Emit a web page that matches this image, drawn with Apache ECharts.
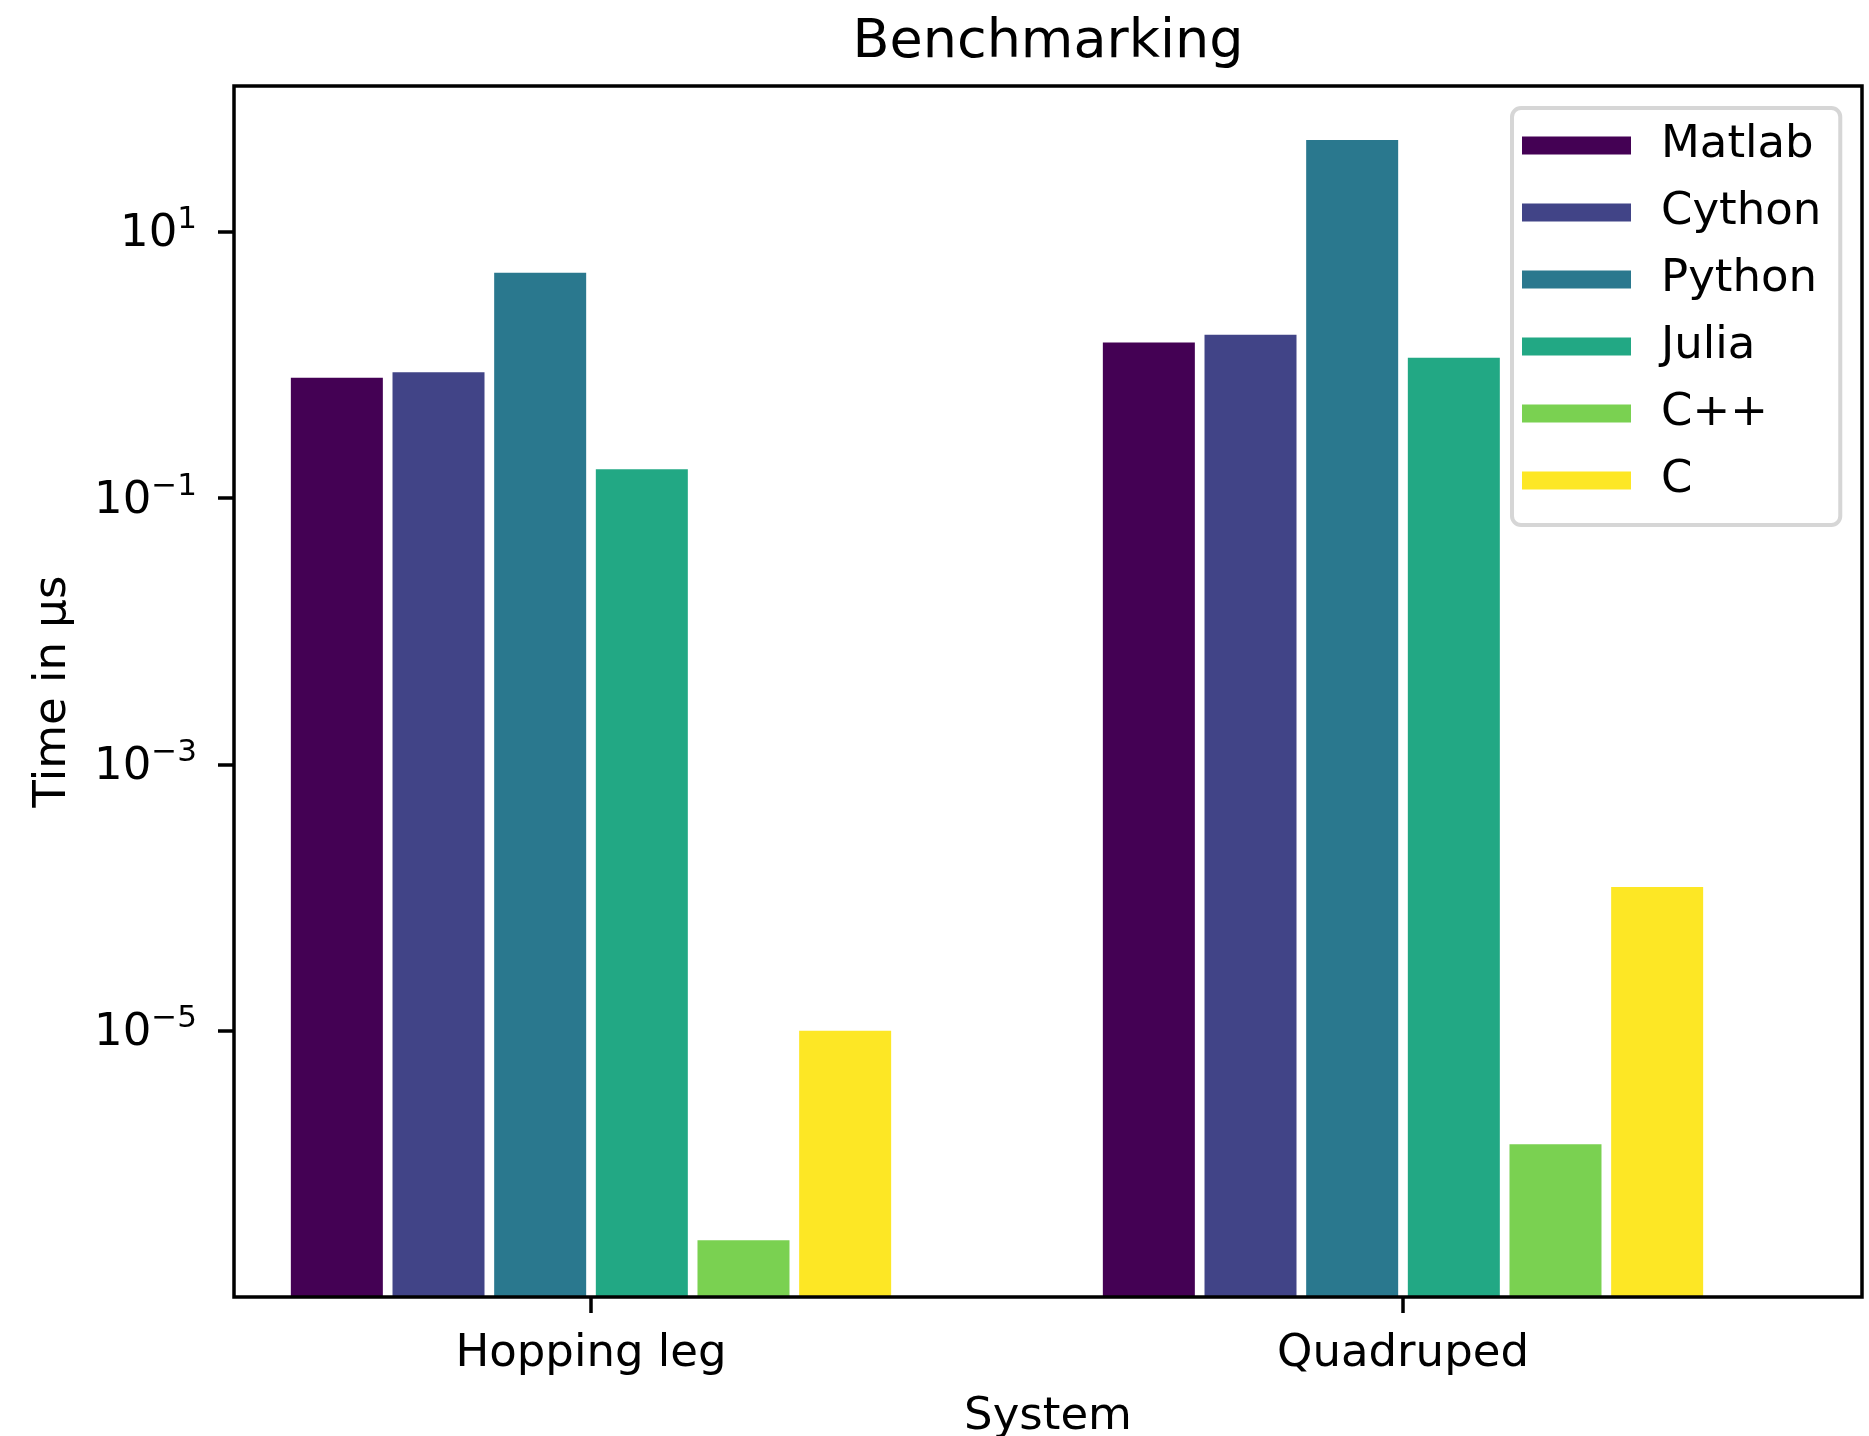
<!DOCTYPE html>
<html>
<head>
<meta charset="utf-8">
<script src="https://cdn.jsdelivr.net/npm/echarts@6/dist/echarts.min.js"></script>
<style>
  html, body { margin: 0; padding: 0; background: #fff; }
  #chart { width: 1869px; height: 1436px; }
</style>
</head>
<body>
<div id="chart"></div>
<script>
const categories = ["Hopping leg", "Quadruped"];
const languages = ["Matlab", "Cython", "Python", "Julia", "C++", "C"];
const matlab = [0.80, 1.47];
const cython = [0.88, 1.68];
const python = [4.9, 48.7];
const julia = [0.164, 1.13];
const cpp = [2.67e-7, 1.4e-6];
const cLang = [1.0e-5, 1.2e-4];
const yTicks = [1e-5, 1e-3, 1e-1, 10];
const colors = ["#440154", "#414487", "#2a788e", "#22a884", "#7ad151", "#fde725"];

const FONT = "DejaVu Sans";
const yMin = 1e-7;
const yMax = 124;

const chart = echarts.init(document.getElementById("chart"));

function powLabel(v) {
  const e = Math.round(Math.log10(v));
  if (e <= -7) return "";
  const exp = e < 0 ? "\u2212" + (-e) : String(e);
  return "{b|10}{s|" + exp + "}";
}

const seriesData = [matlab, cython, python, julia, cpp, cLang];

chart.setOption({
  animation: false,
  textStyle: { fontFamily: FONT },
  title: {
    text: "Benchmarking",
    left: 1048,
    top: 16,
    textAlign: "center",
    padding: 0,
    textStyle: { fontFamily: FONT, fontSize: 54, fontWeight: "normal", color: "#000" }
  },
  legend: {
    orient: "vertical",
    left: 1512,
    top: 108,
    icon: "rect",
    itemWidth: 109,
    itemHeight: 18,
    itemGap: 8,
    padding: [8, 19, 15, 10],
    backgroundColor: "rgba(255,255,255,0.8)",
    borderColor: "#d6d6d6",
    borderWidth: 4,
    borderRadius: 9,
    textStyle: {
      fontFamily: FONT,
      fontSize: 45,
      lineHeight: 45,
      color: "#000",
      padding: [14, 0, 0, 25]
    },
    data: languages
  },
  grid: [
    // bars grid: category centres placed where the reference ticks are
    { left: 185, top: 86, width: 1624, height: 1211, outerBoundsMode: "none", containLabel: false },
    // frame grid: the axes box
    {
      left: 234, top: 86, width: 1628, height: 1211,
      outerBoundsMode: "none", containLabel: false,
      show: true, z: 10,
      backgroundColor: "transparent",
      borderColor: "#000", borderWidth: 3.5
    }
  ],
  xAxis: [
    {
      type: "category",
      gridIndex: 0,
      data: categories,
      axisLine: { show: false },
      axisTick: { show: true, alignWithLabel: true, length: 16, lineStyle: { color: "#000", width: 3.5 } },
      axisLabel: { fontFamily: FONT, fontSize: 45, color: "#000", margin: 35 },
      splitLine: { show: false }
    },
    {
      type: "value",
      gridIndex: 1,
      min: 0,
      max: 1,
      name: "System",
      nameLocation: "middle",
      nameGap: 98,
      nameTextStyle: { fontFamily: FONT, fontSize: 45, color: "#000" },
      axisLine: { show: false },
      axisTick: { show: false },
      axisLabel: { show: false },
      splitLine: { show: false }
    }
  ],
  yAxis: [
    {
      type: "log",
      gridIndex: 0,
      min: yMin,
      max: yMax,
      startValue: yMin,
      show: false,
      splitLine: { show: false }
    },
    {
      type: "log",
      gridIndex: 1,
      min: yMin,
      max: yMax,
      interval: 2,
      name: "Time in μs",
      nameLocation: "middle",
      nameGap: 158,
      nameTextStyle: { fontFamily: FONT, fontSize: 45, color: "#000" },
      axisLine: { show: false },
      axisTick: { show: true, length: 16, lineStyle: { color: "#000", width: 3.5 }, customValues: yTicks },
      axisLabel: {
        customValues: yTicks,
        margin: 37,
        padding: [6, 0, 0, 0],
        color: "#000",
        formatter: powLabel,
        rich: {
          b: { fontFamily: FONT, fontSize: 45, lineHeight: 60, color: "#000" },
          s: { fontFamily: FONT, fontSize: 31, lineHeight: 31, verticalAlign: "top", color: "#000" }
        }
      },
      splitLine: { show: false }
    }
  ],
  series: languages.map((name, i) => ({
    name: name,
    type: "bar",
    xAxisIndex: 0,
    yAxisIndex: 0,
    barWidth: 92,
    barGap: "10.5%",
    itemStyle: { color: colors[i] },
    data: seriesData[i]
  }))
});
</script>
</body>
</html>
